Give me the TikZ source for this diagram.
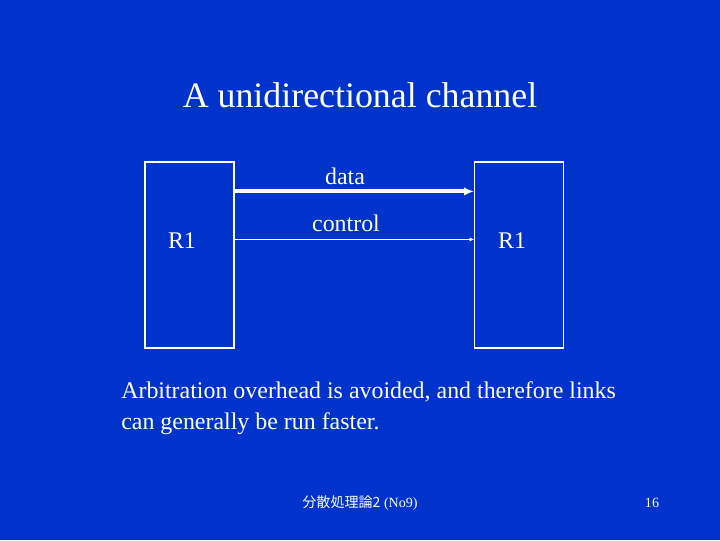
\documentclass[tikz,border=0pt]{standalone}
\usepackage{fontspec}
\setmainfont{Liberation Serif}
\newfontfamily\cjk{Noto Sans CJK JP}
\usepackage{tikz}
\usetikzlibrary{arrows.meta}
\usepackage{xcolor}
\definecolor{slideblue}{HTML}{0033CC}
\definecolor{slidewhite}{HTML}{FFFFFF}

\begin{document}
\begin{tikzpicture}[x=0.025cm, y=-0.025cm,
    router/.style={draw=slidewhite, line width=0.8pt, minimum width=89*0.025cm, minimum height=186*0.025cm, inner sep=0pt},
    txt/.style={text=slidewhite, font=\fontsize{17}{20}\selectfont}]
            \fill[slideblue] (0,0) rectangle (720,540);
            \useasboundingbox (0,0) rectangle (720,540);
            \node[txt, font=\fontsize{25.5}{30}\selectfont] (title) at (360,95) {A unidirectional channel};
            \node[router] (left) at (189.5,255) {};
            \node[router] (right) at (519,255) {};
            \node[txt] (lname) at (182,241) {R1};
            \node[txt] (rname) at (512,241) {R1};
            \draw[-{Latex[length=7pt, width=6pt]}, slidewhite, line width=2.8pt]
              ([yshift=-0.75cm]left.north east) -- ([yshift=-0.75cm]right.north west);
            \draw[-{Latex[length=3pt, width=3pt]}, slidewhite, line width=1pt]
              ([yshift=-1.95cm]left.north east) -- ([yshift=-1.95cm]right.north west);
            \node[txt] (data) at (345,176) {data};
            \node[txt] (control) at (346,223) {control};
            \node[txt, anchor=west, align=left, inner sep=0pt] (note) at (121,408)
              {Arbitration overhead is avoided, and therefore links\\[2pt]can generally be run faster.};
            \node[text=slidewhite, font=\fontsize{10}{12}\selectfont] (foot) at (360,503) {{\cjk 分散処理論2} (No9)};
            \node[text=slidewhite, font=\fontsize{10}{12}\selectfont] (page) at (652,503) {16};
          \end{tikzpicture}
\end{document}
